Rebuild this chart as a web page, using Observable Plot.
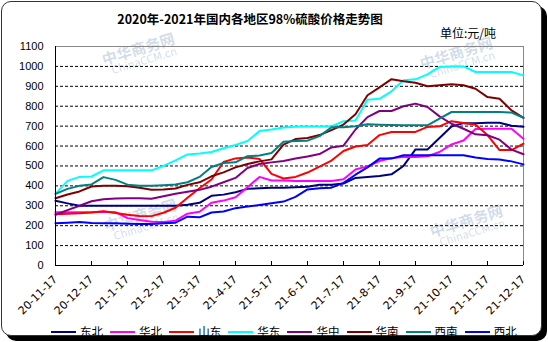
<!DOCTYPE html>
<html><head><meta charset="utf-8">
<script src="https://cdn.jsdelivr.net/npm/d3@7"></script>
<script src="https://cdn.jsdelivr.net/npm/@observablehq/plot@0.6"></script>
<style>
body{margin:0;background:#fff;}
#wrap{position:relative;width:548px;height:342px;overflow:hidden;background:#fff;font-family:"Liberation Sans",Arial,sans-serif;}
#frame{position:absolute;left:1px;top:1px;width:539px;height:333px;border:1px solid #333;border-radius:10px;box-shadow:5px 5px 0 #000;background:#fff;}
#chart{position:absolute;left:0;top:0;}
#title{position:absolute;left:0;width:500px;top:11px;text-align:center;font-weight:bold;font-size:12.5px;line-height:15px;font-family:"Noto Sans CJK SC",sans-serif;color:#000;}
#unit{position:absolute;left:440px;top:25px;font-size:12px;line-height:15px;font-family:"Noto Sans CJK SC",sans-serif;color:#000;}
#legend{position:absolute;left:0;top:324px;width:548px;height:15px;}
.li{position:absolute;top:0;height:15px;}
.li .sw{position:absolute;left:0;top:7px;width:25px;height:2px;}
.li .lb{position:absolute;left:29px;top:0;font-size:11.5px;line-height:15px;font-family:"Noto Sans CJK SC",sans-serif;color:#000;white-space:nowrap;}
.wm{position:absolute;color:rgba(110,145,190,0.33);font-family:"Noto Sans CJK SC",sans-serif;transform:rotate(-17deg);transform-origin:left top;white-space:nowrap;line-height:1;}
.wm .a{font-size:15px;font-weight:bold;}
.wm .b{font-size:11px;margin-left:6px;}
.xl text{font-family:"DejaVu Sans",sans-serif;}
</style></head>
<body>
<div id="wrap">
  <div id="frame"></div>
  <div class="wm" style="left:100px;top:52px;"><div class="a">中华商务网</div><div class="b">ChinaCCM.cn</div></div>
  <div class="wm" style="left:102px;top:218px;"><div class="a">中华商务网</div><div class="b">ChinaCCM.cn</div></div>
  <div class="wm" style="left:418px;top:56px;"><div class="a">中华商务网</div><div class="b">ChinaCCM.cn</div></div>
  <div class="wm" style="left:428px;top:224px;"><div class="a">中华商务网</div><div class="b">ChinaCCM.cn</div></div>
  <div id="chart"></div>
  <div id="title">2020年-2021年国内各地区98%硫酸价格走势图</div>
  <div id="unit">单位:元/吨</div>
  <div id="legend"></div>
</div>
<script>
const categories = ["20-11-17","20-11-27","20-12-7","20-12-17","20-12-27","21-1-7","21-1-17","21-1-27","21-2-7","21-2-17","21-2-27","21-3-7","21-3-17","21-3-27","21-4-7","21-4-17","21-4-27","21-5-7","21-5-17","21-5-27","21-6-7","21-6-17","21-6-27","21-7-7","21-7-17","21-7-27","21-8-7","21-8-17","21-8-27","21-9-7","21-9-17","21-9-27","21-10-7","21-10-17","21-10-27","21-11-7","21-11-17","21-11-27","21-12-7","21-12-17"];
const tickLabels = ["20-11-17","20-12-17","21-1-17","21-2-17","21-3-17","21-4-17","21-5-17","21-6-17","21-7-17","21-8-17","21-9-17","21-10-17","21-11-17","21-12-17"];
const yTicks = [0,100,200,300,400,500,600,700,800,900,1000,1100];
const gridValues = [100,200,300,400,500,600,700,800,900,1000];
const regions = ["东北","华北","山东","华东","华中","华南","西南","西北"];
const colors = ["#000080","#FF00FF","#FF0000","#00FFFF","#800080","#800000","#008080","#0000FF"];

const dongbei = [325,312,300,300,300,300,300,300,300,300,300,305,315,350,356,368,385,388,390,390,393,396,406,406,412,440,445,450,458,500,583,583,640,698,715,715,717,717,702,697];
const huabei  = [268,268,268,268,270,268,238,228,220,218,225,260,270,315,326,343,393,445,427,427,425,425,425,425,433,482,498,525,540,545,545,549,570,608,628,686,687,687,687,637];
const shandong= [258,260,262,266,272,264,255,249,248,265,290,340,388,432,520,538,542,535,460,437,445,467,497,527,575,598,605,655,671,671,671,696,699,725,716,707,655,580,580,612];
const huadong = [360,425,445,447,478,478,478,478,478,500,528,558,562,570,589,605,625,675,683,693,697,698,698,698,725,728,832,837,875,930,935,960,997,1000,1000,972,972,972,972,955];
const huazhong= [255,278,300,323,333,336,338,338,335,348,360,370,380,396,418,440,490,510,518,525,537,548,560,593,602,683,745,776,776,800,813,796,749,712,687,659,654,632,582,559];
const huanan  = [338,357,372,397,400,400,398,390,380,382,387,405,418,448,468,493,510,523,533,607,635,640,655,680,708,760,855,895,936,926,918,900,905,910,905,888,846,838,779,742];
const xinan   = [360,385,400,407,444,430,406,401,400,403,407,418,445,495,515,518,549,552,565,622,625,627,650,694,694,699,709,707,706,704,704,704,738,771,771,771,771,771,768,742];
const xibei   = [212,215,218,213,212,212,210,208,208,212,215,245,242,266,271,288,296,304,313,321,345,382,388,391,415,456,493,537,537,554,554,554,554,554,554,542,535,532,523,508];

const seriesValues = [dongbei, huabei, shandong, huadong, huazhong, huanan, xinan, xibei];
const data = regions.flatMap((r, k) => categories.map((c, i) => ({date: c, value: seriesValues[k][i], region: r})));

const chart = Plot.plot({
  width: 548, height: 342,
  marginTop: 46, marginBottom: 77, marginLeft: 55, marginRight: 25,
  style: {background: "transparent", fontFamily: "'Liberation Sans', Arial, sans-serif", fontSize: "11px", color: "#000"},
  x: {type: "point", domain: categories, padding: 0},
  y: {domain: [0, 1100]},
  color: {domain: regions, range: colors},
  marks: [
    Plot.gridY(gridValues, {stroke: "#000", strokeOpacity: 1, strokeDasharray: "3,2"}),
    Plot.ruleY([1100], {stroke: "#888"}),
    Plot.ruleX([categories[categories.length - 1]], {stroke: "#888"}),
    Plot.line(data, {x: "date", y: "value", z: "region", stroke: "region", strokeWidth: 2}),
    Plot.ruleX([categories[0]], {stroke: "#000"}),
    Plot.ruleY([0], {stroke: "#000"}),
    Plot.tickX(tickLabels, {x: d => d, stroke: "#000", insetTop: 215}),
    Plot.axisY({ticks: yTicks, tickFormat: d => String(d), tickSize: 0, tickPadding: 12, label: null, fontSize: 11}),
    Plot.axisX({ticks: tickLabels, tickSize: 0, tickRotate: -45, tickPadding: 12, label: null, fontSize: 11, className: "xl"})
  ]
});
document.getElementById("chart").appendChild(chart);

const legend = document.getElementById("legend");
regions.forEach((r, k) => {
  const item = document.createElement("div");
  item.className = "li";
  item.style.left = (51 + k * 59.1) + "px";
  item.innerHTML = `<div class="sw" style="background:${colors[k]}"></div><div class="lb">${r}</div>`;
  legend.appendChild(item);
});
</script>
</body></html>
